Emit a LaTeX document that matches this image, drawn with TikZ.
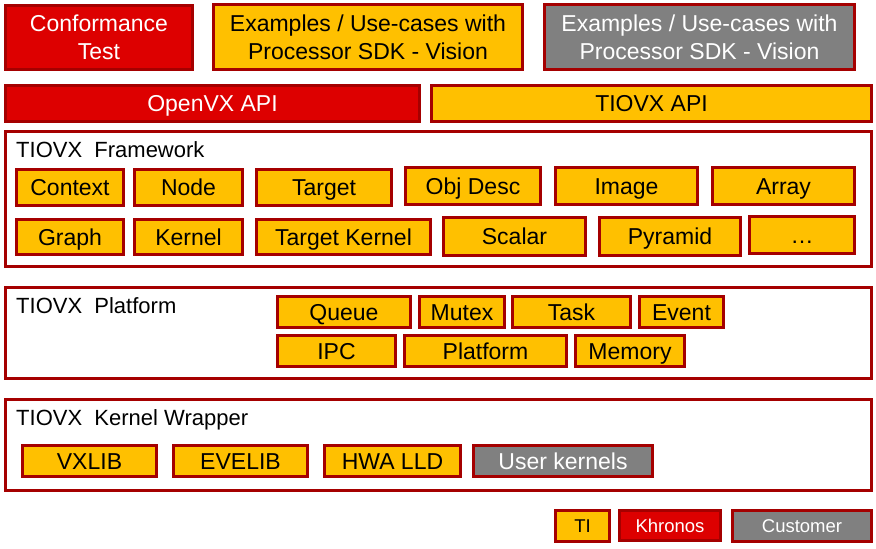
\documentclass[tikz,border=0pt]{standalone}
\usepackage{fontspec}
\setmainfont{Liberation Sans}
\definecolor{bred}{HTML}{A50000}
\definecolor{kred}{HTML}{DD0000}
\definecolor{tiorange}{HTML}{FFC000}
\definecolor{cgray}{HTML}{808080}
\newcommand\mybox[7]{%
  \node[#6, minimum width={(#4-#2-3)*1pt}, minimum height={(#5-#3-3)*1pt}]
    (#1) at ({(#2+#4)/2},{(#3+#5)/2}) {#7};}
\tikzset{
  base/.style={draw=bred, line width=3pt, inner sep=0pt, rectangle, font=\fontsize{23}{28}\selectfont},
  one/.style={text height=16.5pt, text depth=0pt},
  tibox/.style={base, one, fill=tiorange, text=black},
  khbox/.style={base, one, fill=kred, text=white},
  cubox/.style={base, one, fill=cgray, text=white},
  tibox2/.style={base, fill=tiorange, text=black, align=center},
  khbox2/.style={base, fill=kred, text=white, align=center},
  cubox2/.style={base, fill=cgray, text=white, align=center},
  panel/.style={base, fill=white},
  ptitle/.style={anchor=base west, inner sep=0pt, font=\fontsize{22}{26}\selectfont},
  leg/.style={font=\fontsize{18.5}{22}\selectfont, text height=13pt, text depth=0pt},
}
\begin{document}
\begin{tikzpicture}[x=1pt,y=-1pt]
\useasboundingbox (0,0) rectangle (876,549);
% top row
\mybox{conf}{4}{4}{194}{71}{khbox2}{Conformance\\Test}
\mybox{exti}{212}{3}{524}{71}{tibox2}{Examples / Use-cases with\\Processor SDK - Vision}
\mybox{excu}{543}{3}{856}{71}{cubox2}{Examples / Use-cases with\\Processor SDK - Vision}
\mybox{openvx}{4}{84}{421}{123}{khbox}{OpenVX API}
\mybox{tiovxapi}{430}{84}{873}{123}{tibox}{TIOVX API}
% framework
\mybox{fw}{4}{130}{873}{268}{panel}{}
\node[ptitle] (fwt) at (16,157) {TIOVX\ \ Framework};
\mybox{context}{15}{168}{125}{207}{tibox}{Context}
\mybox{node}{133}{168}{244}{207}{tibox}{Node}
\mybox{target}{255}{168}{393}{207}{tibox}{Target}
\mybox{objdesc}{404}{166}{542}{206}{tibox}{Obj Desc}
\mybox{image}{554}{166}{699}{206}{tibox}{Image}
\mybox{array}{711}{166}{856}{206}{tibox}{Array}
\mybox{graph}{15}{218}{125}{256}{tibox}{Graph}
\mybox{kernel}{133}{218}{244}{256}{tibox}{Kernel}
\mybox{tkernel}{255}{218}{432}{256}{tibox}{Target Kernel}
\mybox{scalar}{442}{216}{587}{257}{tibox}{Scalar}
\mybox{pyramid}{598}{216}{742}{257}{tibox}{Pyramid}
\mybox{dots}{748}{215}{856}{255}{tibox}{\dots}
% platform
\mybox{pf}{4}{286}{873}{380}{panel}{}
\node[ptitle] (pft) at (16,313) {TIOVX\ \ Platform};
\mybox{queue}{276}{295}{412}{329}{tibox}{Queue}
\mybox{mutex}{418}{295}{506}{329}{tibox}{Mutex}
\mybox{task}{511}{295}{632}{329}{tibox}{Task}
\mybox{event}{638}{295}{725}{329}{tibox}{Event}
\mybox{ipc}{276}{334}{397}{368}{tibox}{IPC}
\mybox{platf}{403}{334}{568}{368}{tibox}{Platform}
\mybox{memory}{574}{334}{686}{368}{tibox}{Memory}
% kernel wrapper
\mybox{kw}{4}{398}{873}{492}{panel}{}
\node[ptitle] (kwt) at (16,425.5) {TIOVX\ \ Kernel Wrapper};
\mybox{vxlib}{21}{444}{158}{478}{tibox}{VXLIB}
\mybox{evelib}{172}{444}{309}{478}{tibox}{EVELIB}
\mybox{hwa}{323}{444}{462}{478}{tibox}{HWA LLD}
\mybox{user}{472}{444}{654}{478}{cubox}{User kernels}
% legend
\mybox{lti}{554}{509}{611}{543}{tibox,leg}{TI}
\mybox{lkh}{618}{509}{722}{542}{khbox,leg}{Khronos}
\mybox{lcu}{731}{509}{873}{543}{cubox,leg}{Customer}
\end{tikzpicture}
\end{document}
